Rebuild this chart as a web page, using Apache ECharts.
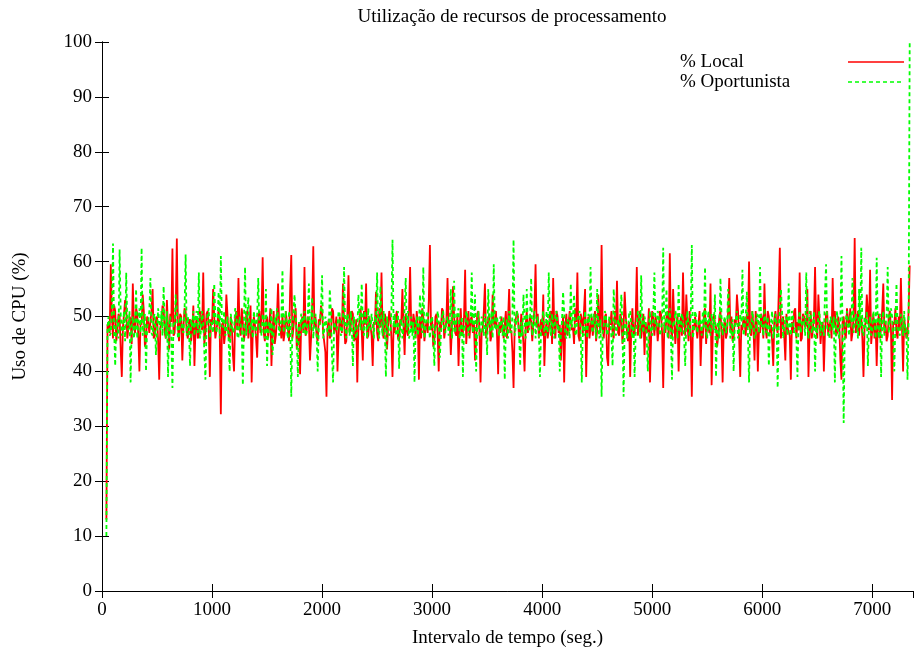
<!DOCTYPE html>
<html>
<head>
<meta charset="utf-8">
<script src="https://cdn.jsdelivr.net/npm/echarts@6/dist/echarts.min.js"></script>
<style>
html,body{margin:0;padding:0;background:#fff;}
#chart{width:919px;height:654px;}
</style>
</head>
<body>
<div id="chart"></div>
<script>
// sampling: first sample time (s) and spacing between samples (s)
const sampleStart = 40;
const sampleStep = 10;

const seriesNames = ['% Local', '% Oportunista'];

const localValues = [
  13, 48.5, 49, 47, 59.5, 50, 46, 52, 51, 45.5, 47.5, 50.5, 50, 44, 39, 48, 48, 53, 51.5, 46,
  46, 50, 49.5, 45, 56, 48.5, 47, 51.5, 50.5, 46.5, 40, 49, 48.5, 54, 51, 44.5, 45.5, 50, 49, 47,
  47, 51, 55, 46, 46.5, 49.5, 50, 45.5, 38.5, 48, 49, 52, 51.5, 47, 46, 53, 48, 44, 50.5, 49,
  62.4, 46.5, 47, 51, 64.2, 48, 45.5, 50.5, 50, 42, 48, 51.5, 51, 47, 46, 49, 49.5, 45.5, 47.5, 52,
  41, 48, 50, 46, 46.5, 51, 49, 47.5, 58, 45, 47, 50.5, 51, 48, 39, 49.5, 48.5, 55, 50, 46,
  46, 49, 51.5, 47, 32.2, 48.5, 49, 45, 47, 54, 50.5, 46.5, 45.5, 50, 48, 43, 40, 49.5, 51, 47.5,
  57, 48, 46.5, 51.5, 49, 45.5, 47.5, 50, 51, 46, 48, 52, 38, 47, 50, 48.5, 46, 42.5, 49.5, 51,
  47, 50.5, 60.8, 47, 45.5, 49, 50, 46, 48.5, 51.5, 41, 47.5, 51, 45, 46.5, 50, 56, 48.5, 48, 46,
  50.5, 45.5, 47, 51, 49, 47.5, 45.5, 55, 61.2, 46, 48, 50.5, 51.5, 44, 46, 49, 39.5, 48.5, 50, 47,
  59, 46.5, 47.5, 50, 49, 42, 46, 51.5, 62.8, 48, 50, 46.5, 45.5, 49.5, 48.5, 52, 51, 47, 47, 43.5,
  35.4, 48, 49.5, 46, 46.5, 51.5, 51, 47, 48, 50, 40, 46.5, 50, 48.5, 47, 56, 49, 45, 45.5, 50.5,
  57.5, 47, 48, 51, 50.5, 45.5, 46, 49.5, 38, 48, 49, 51.5, 47.5, 42, 51, 48.5, 56, 46, 46.5, 50,
  50, 46.5, 41, 49, 48.5, 54.5, 47, 45.5, 51.5, 48, 58, 47, 46, 50.5, 49.5, 44, 48, 51, 50, 46,
  39, 48.5, 47, 50, 51, 46, 45.5, 49.5, 49, 55, 48.5, 43, 50.5, 47.5, 46.5, 51, 59, 48, 47.5, 50.5,
  49, 46, 51, 48.5, 38.5, 50, 46, 51.5, 50, 45.5, 48, 49, 47, 53, 63, 47.5, 49.5, 44.5, 45.5, 50,
  50.5, 47, 40, 49, 47.5, 51.5, 51, 46, 46, 49.5, 57, 48, 49, 43, 48, 55.5, 50, 47, 46.5, 50.5,
  41, 48, 51.5, 46.5, 47, 50, 58.5, 45, 48.5, 51, 46, 49.5, 50, 47, 49, 42, 45.5, 50.5, 51, 48,
  38, 47, 48, 51, 56, 46, 47.5, 49.5, 50.5, 45.5, 46.5, 54, 49, 48, 51, 46.5, 39.5, 49, 47, 50,
  50, 46, 48.5, 51, 46, 49.5, 55, 47, 47.5, 43.5, 37, 48, 49.5, 51, 50, 46, 46.5, 50.5, 48, 45,
  40, 48.5, 51, 47, 47, 50, 49, 45.5, 45.5, 51.5, 59.5, 48, 50.5, 46, 48, 49.5, 46.5, 54, 41, 47.5,
  49, 46, 47.5, 50.5, 51, 45, 57, 48, 46, 51, 50, 47, 48.5, 42, 47, 50, 38, 48.5, 50.5, 46.5,
  46.5, 51, 49, 47.5, 48, 45, 51.5, 49, 58, 46.5, 45.5, 50.5, 49.5, 47, 47, 55, 39, 48, 50, 46,
  48, 50, 46.5, 49, 51, 45.5, 47.5, 54, 49, 47, 63, 48, 46, 50, 50.5, 42.5, 41, 49.5, 48.5, 51,
  47, 46, 51, 48.5, 56.5, 47, 46.5, 50.5, 49.5, 45, 48, 54.5, 50, 47.5, 45.5, 49, 39, 48, 51.5, 46.5,
  47, 50, 59, 46.5, 48.5, 51, 46, 48, 50.5, 43, 49, 47, 47.5, 51.5, 38, 46, 51, 49.5, 46.5, 50,
  49, 45.5, 48, 51, 50.5, 47, 37, 48.5, 47, 50, 51, 46, 61.5, 47.5, 46, 55, 49.5, 45, 48, 50.5,
  40, 48, 50, 46.5, 58, 49, 46.5, 54, 49, 45.5, 51, 47, 35.4, 48.5, 47.5, 50, 50, 46, 48.5, 51,
  41, 47.5, 46, 50.5, 51.5, 45, 49, 48, 47, 56, 37.5, 46.5, 50.5, 49, 48, 44.5, 46.5, 50, 51, 47,
  38, 48, 49.5, 46, 47, 51, 57, 47.5, 50, 45.5, 46, 49.5, 48.5, 54, 51, 46, 39, 48.5, 47.5, 50,
  49, 46.5, 50.5, 48, 60, 47, 46.5, 51, 48, 42, 51, 49, 40, 47.5, 47, 50.5, 49.5, 46, 56, 48,
  46, 51, 50, 47, 48.5, 45.5, 41, 49.5, 51, 48, 47, 54.5, 62.5, 46, 49, 50, 46.5, 42, 50.5, 48,
  48, 46.5, 38.5, 49, 47, 51, 51.5, 46, 49, 47.5, 58, 45.5, 46, 50.5, 50, 48, 48.5, 55, 39, 47,
  51, 46, 47.5, 50, 59, 48, 46, 54, 49.5, 45, 48, 49, 40, 47, 50.5, 51, 46.5, 48.5, 49, 46,
  57, 48, 51, 46.5, 47, 50, 48.5, 42, 38.5, 49, 50, 47, 46, 51.5, 49.5, 48, 51.5, 45.5, 47, 50,
  64.3, 47, 48, 51, 46.5, 49.5, 50, 46, 39, 48, 49, 54, 51, 47.5, 58.5, 45, 47.5, 50.5, 46, 49,
  41, 48.5, 50.5, 46, 48, 51, 56, 47, 49, 45.5, 46.5, 50, 51, 47.5, 34.8, 49, 48.5, 51.5, 47, 46,
  50, 47.5, 57, 48, 40, 49.5, 48, 46, 46.5, 51, 59.3
];

const oportunistaValues = [
  10, 48, 50, 46.5, 47, 51, 63.3, 47.5, 41, 49, 49.5, 46, 62.2, 50.5, 46.5, 48, 51, 45.5, 58, 49,
  47.5, 51, 38, 48.5, 50, 46, 48, 55, 46, 49, 51.5, 47, 62.5, 46.5, 48.5, 50.5, 40, 48, 49, 51,
  57, 47, 46.5, 50, 50.5, 43, 47, 51.5, 49, 47.5, 51, 46.5, 55.5, 49, 46, 51, 39, 48.5, 50, 46,
  37, 49, 48.5, 54, 51, 46, 46.5, 50, 49.5, 47.5, 47, 51, 61.3, 46.5, 50, 48, 41, 49.5, 48, 51,
  46.5, 50, 51, 47, 58, 46, 47.5, 51, 49, 43.5, 38.5, 48, 50.5, 51.5, 46, 49, 48.5, 47, 56, 50,
  47, 49.5, 54.5, 46, 61, 48.5, 48, 51, 46.5, 47.5, 50, 46, 40, 50.5, 49, 47, 47.5, 51.5, 51, 46.5,
  46, 50, 48.5, 47, 37.5, 49, 59, 46.5, 50, 53.5, 47, 48, 49.5, 46, 51, 49, 46.5, 50.5, 57, 47.5,
  48, 46.5, 50.5, 49, 46, 55, 41, 48, 49, 47, 51.5, 43, 47, 50, 48.5, 51.5, 50, 46.5, 46.5, 49.5,
  58.5, 47, 49, 51, 47.5, 46, 51, 49.5, 35.4, 48, 48, 54, 50, 46.5, 39, 49, 46.5, 50.5, 49.5, 47,
  51, 46.5, 47, 50, 56, 47.5, 48.5, 53.5, 46, 49.5, 50.5, 47, 40, 48, 49, 51.5, 57.5, 46, 47.5, 50,
  50, 47, 46.5, 55, 51, 43, 38, 49, 49, 47.5, 48, 51, 50.5, 46.5, 47, 49.5, 59, 48, 46, 50.5,
  49.5, 46.5, 51, 48, 41, 50, 48, 46, 47, 54, 50, 47.5, 56, 49, 46.5, 51, 49, 46, 51.5, 48,
  47.5, 50.5, 48.5, 46, 50, 49, 58, 47, 46, 55.5, 49, 46.5, 51, 48, 39, 50, 48, 46.5, 47, 51,
  64, 48, 50.5, 47, 46.5, 51, 40.5, 48.5, 49.5, 46, 48, 51.5, 57, 47.5, 51, 46, 47, 50, 46.5, 49,
  38, 48, 50, 46.5, 48.5, 54, 49, 47, 59, 46, 47.5, 50.5, 51, 48, 46, 49.5, 50, 47, 41, 48.5,
  48, 51, 49.5, 42.5, 46.5, 50, 51, 47.5, 47, 49, 50, 46.5, 48.5, 55, 46, 48, 56.5, 47, 49, 50.5,
  51.5, 46, 47.5, 50, 39, 48.5, 48, 51, 50, 46.5, 46.5, 49, 58, 47, 49, 54, 40, 48, 51, 46.5,
  47, 50, 48.5, 46.5, 50.5, 48, 43, 55, 49, 47, 51, 46, 59.5, 48.5, 47.5, 50, 48, 46.5, 50, 49,
  46.5, 50, 38.5, 48, 49.5, 46, 51, 47.5, 47, 50.5, 64, 46.5, 48, 51, 50, 47, 41, 49, 46.5, 54,
  49, 46, 55, 48, 47.5, 50, 57, 46.5, 48.5, 51, 46, 49, 50, 47.5, 39, 48, 49.5, 51, 47, 46.5,
  51, 47, 58, 49, 46.5, 50.5, 48, 46, 50.5, 51, 47.5, 48.5, 40, 47, 49, 54.5, 51, 46.5, 46, 49.5,
  48.5, 46, 56, 48, 50, 54, 47, 46.5, 49.5, 50, 51, 47, 38, 48.5, 46.5, 51, 48, 46, 50.5, 49,
  59, 48, 47, 50.5, 49, 46, 55, 48, 46, 49.5, 35.4, 47, 48.5, 51, 50, 46.5, 47.5, 50, 49, 46,
  41, 55, 51, 46.5, 46.5, 49.5, 48, 51, 54, 47, 35.4, 48.5, 49.5, 46, 47, 50.5, 51, 48, 46, 49,
  39, 47, 48.5, 51, 50.5, 46, 57.5, 48.5, 47, 50, 49, 46.5, 40, 48, 51, 47, 46.5, 50.5, 58, 47.5,
  48, 51, 50, 46.5, 47.5, 49, 62.5, 47, 49, 55, 46, 48, 51.5, 46.5, 38.5, 49, 48.5, 51, 50, 46,
  56, 48, 47, 50.5, 49.5, 46, 41, 49, 51, 47.5, 46.5, 50, 63, 46, 48, 51, 50, 47, 47, 49.5,
  49, 46.5, 51, 48, 59, 47, 46, 51, 48.5, 46.5, 50.5, 49, 47.5, 54, 39, 48, 49, 46, 57, 50,
  46.5, 49, 50, 47, 48, 55, 51, 46, 47, 49.5, 40, 48, 49.5, 51, 46, 47.5, 50.5, 49, 58.5, 46.5,
  48, 50, 54.5, 46.5, 38, 49, 47.5, 51, 49, 46, 46.5, 50.5, 50, 47, 59, 48, 48.5, 46.5, 51.5, 49,
  47, 50, 41, 48, 49, 51, 46, 47.5, 50.5, 49, 37, 48, 48, 55, 51, 46, 47.5, 50, 49.5, 46.5,
  56, 48, 46.5, 51, 50, 47, 48, 46, 39, 49.5, 51, 47, 47, 50, 49, 46.5, 58, 48.5, 46, 51,
  50.5, 47, 48.5, 51, 40, 48, 47, 50, 51, 46.5, 49, 47.5, 46.5, 54, 59.5, 48, 48, 46, 50, 49,
  47.5, 50, 38, 48.5, 51, 47, 46, 49.5, 61, 48, 30.6, 47, 49.5, 51, 48, 46.5, 50.5, 49, 57, 47,
  47, 50.5, 49, 46, 55, 48, 62.5, 47, 46.5, 50, 48, 51, 41, 48.5, 50, 46.5, 47.5, 51, 49, 46,
  60.7, 48, 46, 50.5, 39, 49, 51, 46.5, 48.5, 50, 59, 47, 47, 51.5, 50, 46, 40, 49, 56, 48,
  48, 46.5, 50.5, 49, 46.5, 51, 47, 48, 38.5, 49, 100
];

const xTickLabels = ['0', '1000', '2000', '3000', '4000', '5000', '6000', '7000'];
const yTickLabels = ['0', '10', '20', '30', '40', '50', '60', '70', '80', '90', '100'];

const titleText = 'Utilização de recursos de processamento';
const xAxisName = 'Intervalo de tempo (seg.)';
const yAxisName = 'Uso de CPU (%)';

function toPairs(values) {
  return values.map((v, i) => [sampleStart + i * sampleStep, v]);
}

const FONT = '"Liberation Serif", "Times New Roman", serif';
const FONT_SIZE = 19;
const RED = '#ff0000';
const GREEN = '#00ff00';

// legend layout: text starts at LEG_TEXT_X, line sample starts at LEG_LINE_X
const LEG_TEXT_X = 680, LEG_LINE_X = 848, LEG_LINE_W = 56, LEG_LINE_H = 1.5, LEG_TEXT_GAP = 5;
const measureCtx = document.createElement('canvas').getContext('2d');
measureCtx.font = FONT_SIZE + 'px ' + FONT;
function legendPad(name) {
  const w = measureCtx.measureText(name).width;
  return Math.max(0, LEG_LINE_X - LEG_TEXT_GAP - LEG_TEXT_X - w);
}

const SOLID_ICON = 'path://M0 0H56V1.5H0Z';
const DASH_ICON = 'path://M0 0h4v1.5h-4zM7 0h4v1.5h-4zM14 0h4v1.5h-4zM21 0h4v1.5h-4zM28 0h4v1.5h-4zM35 0h4v1.5h-4zM42 0h4v1.5h-4zM49 0h4v1.5h-4zM55.99 0h0.01v1.5h-0.01z';

function makeLegend(name, centerY, icon, color) {
  return {
    left: LEG_TEXT_X, top: centerY - 9.5,
    padding: 0,
    orient: 'horizontal',
    align: 'right',
    itemWidth: LEG_LINE_W, itemHeight: LEG_LINE_H,
    itemGap: 0,
    selectedMode: false,
    textStyle: {
      fontFamily: FONT, fontSize: FONT_SIZE, color: '#000', lineHeight: 20,
      padding: [0, legendPad(name), 0, 0]
    },
    data: [{ name: name, icon: icon, itemStyle: { color: color } }]
  };
}

const chart = echarts.init(document.getElementById('chart'), null, { renderer: 'canvas' });

const axisLineStyle = { show: true, lineStyle: { color: '#000', width: 1 } };
const tickStyle = { show: true, inside: true, length: 7, lineStyle: { color: '#000', width: 1 } };

chart.setOption({
  animation: false,
  backgroundColor: '#fff',
  title: {
    text: titleText,
    left: 507, top: 3,
    textAlign: 'center',
    textStyle: { fontFamily: FONT, fontSize: FONT_SIZE, fontWeight: 'normal', color: '#000' }
  },
  grid: { left: 102, right: 6, top: 42, bottom: 63 },
  legend: [
    makeLegend(seriesNames[0], 61.5, SOLID_ICON, RED),
    makeLegend(seriesNames[1], 81.5, DASH_ICON, GREEN)
  ],
  xAxis: [
    {
      type: 'value', min: 0, max: 7370, interval: 1000, position: 'bottom',
      axisLine: axisLineStyle, axisTick: tickStyle, splitLine: { show: false },
      axisLabel: {
        fontFamily: FONT, fontSize: FONT_SIZE, color: '#000', margin: 10,
        showMaxLabel: false,
        formatter: v => (v % 1000 === 0 ? xTickLabels[v / 1000] : '')
      },
      name: xAxisName, nameLocation: 'middle', nameGap: 38,
      nameTextStyle: { fontFamily: FONT, fontSize: FONT_SIZE, color: '#000' }
    },
    {
      type: 'value', min: 0, max: 7370, interval: 1000, position: 'top',
      axisLine: axisLineStyle, axisTick: tickStyle, splitLine: { show: false },
      axisLabel: { show: false }
    }
  ],
  yAxis: [
    {
      type: 'value', min: 0, max: 100, interval: 10, position: 'left',
      axisLine: axisLineStyle, axisTick: tickStyle, splitLine: { show: false },
      axisLabel: {
        fontFamily: FONT, fontSize: FONT_SIZE, color: '#000', margin: 10,
        formatter: v => yTickLabels[Math.round(v / 10)]
      },
      name: yAxisName, nameLocation: 'middle', nameGap: 72, nameRotate: 90,
      nameTextStyle: { fontFamily: FONT, fontSize: FONT_SIZE, color: '#000' }
    },
    {
      type: 'value', min: 0, max: 100, interval: 10, position: 'right',
      axisLine: axisLineStyle, axisTick: tickStyle, splitLine: { show: false },
      axisLabel: { show: false }
    }
  ],
  series: [
    {
      name: seriesNames[0], type: 'line', xAxisIndex: 0, yAxisIndex: 0,
      data: toPairs(localValues),
      symbol: 'none', showSymbol: false,
      lineStyle: { color: RED, width: 1.8 },
      itemStyle: { color: RED },
      emphasis: { disabled: true }
    },
    {
      name: seriesNames[1], type: 'line', xAxisIndex: 0, yAxisIndex: 0,
      data: toPairs(oportunistaValues),
      symbol: 'none', showSymbol: false,
      lineStyle: { color: GREEN, width: 1.8, type: [4, 3] },
      itemStyle: { color: GREEN },
      emphasis: { disabled: true }
    }
  ]
});
</script>
</body>
</html>
